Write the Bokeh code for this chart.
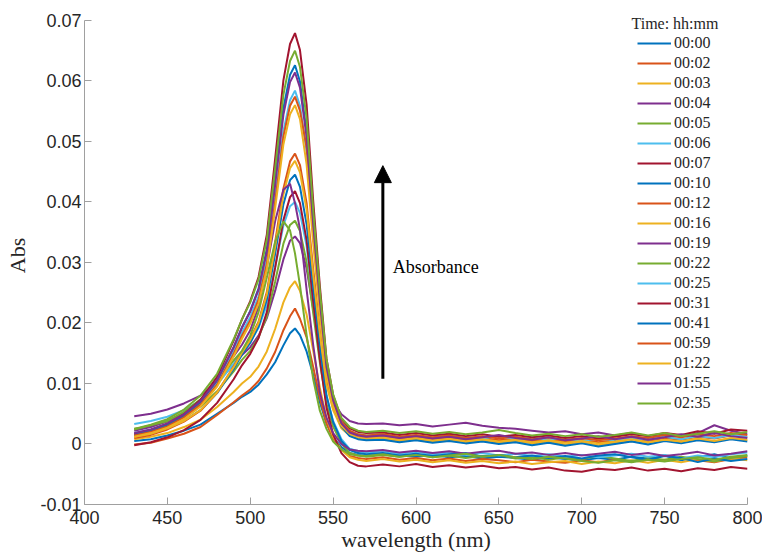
from bokeh.plotting import figure
from bokeh.models import (Range1d, FixedTicker, Legend, LegendItem, Arrow,
                          NormalHead, Label, ColumnDataSource)
from bokeh.embed import file_html
from bokeh.resources import INLINE

# ---------------- data ----------------
wavelength = [430, 440, 450, 460, 470, 480, 490, 495, 500, 505, 510, 515, 520,
              524, 527, 530, 534, 538, 542, 546, 550, 555, 560, 565, 570,
              580, 590, 600, 610, 620, 630, 640, 650, 660, 670, 680, 690, 700,
              710, 720, 730, 740, 750, 760, 770, 780, 790, 800]

times = ["00:00", "00:02", "00:03", "00:04", "00:05", "00:06", "00:07",
         "00:10", "00:12", "00:16", "00:19", "00:22", "00:25", "00:31",
         "00:41", "00:59", "01:22", "01:55", "02:35"]

abs_0000 = [.0005, .0008, .0014, .0022, .0032, .0050, .0068, .0078, .0086, .0098, .0115, .0135, .0163,
            .0183, .0191, .0180, .0153, .0114, .0069, .0034, .0011, -.0005, -.0015, -.0018, -.0020,
            -.0017, -.0019, -.0021, -.0018, -.0022, -.0020, -.0024, -.0021, -.0023, -.0026, -.0022, -.0025,
            -.0027, -.0023, -.0026, -.0021, -.0024, -.0019, -.0027, -.0022, -.0017, -.0024, -.0019]
abs_0002 = [-.0001, .0002, .0009, .0017, .0028, .0048, .0069, .0080, .0090, .0104, .0125, .0152, .0188,
            .0211, .0224, .0207, .0176, .0127, .0076, .0034, .0009, -.0009, -.0020, -.0023, -.0025,
            -.0022, -.0026, -.0023, -.0027, -.0024, -.0028, -.0025, -.0027, -.0030, -.0026, -.0029, -.0031,
            -.0027, -.0030, -.0026, -.0029, -.0025, -.0028, -.0023, -.0027, -.0030, -.0025, -.0022]
abs_0003 = [.0008, .0012, .0018, .0028, .0040, .0061, .0086, .0100, .0111, .0128, .0153, .0190, .0234,
            .0259, .0269, .0253, .0214, .0154, .0093, .0043, .0012, -.0010, -.0022, -.0026, -.0028,
            -.0025, -.0029, -.0026, -.0030, -.0027, -.0031, -.0028, -.0032, -.0029, -.0033, -.0030, -.0028,
            -.0033, -.0029, -.0032, -.0027, -.0031, -.0026, -.0030, -.0025, -.0029, -.0024, -.0027]
abs_0004 = [.0046, .0050, .0057, .0067, .0080, .0103, .0131, .0147, .0160, .0179, .0208, .0253, .0305,
            .0336, .0343, .0332, .0290, .0223, .0156, .0101, .0070, .0049, .0038, .0034, .0033,
            .0034, .0031, .0033, .0029, .0032, .0035, .0030, .0027, .0025, .0022, .0019, .0021,
            .0016, .0019, .0014, .0018, .0013, .0017, .0012, .0018, .0031, .0022, .0016]
abs_0005 = [.0025, .0029, .0037, .0048, .0062, .0087, .0120, .0139, .0154, .0176, .0211, .0268, .0331,
            .0362, .0369, .0352, .0301, .0216, .0135, .0067, .0029, .0001, -.0015, -.0019, -.0021,
            -.0018, -.0021, -.0017, -.0022, -.0019, -.0023, -.0020, -.0018, -.0024, -.0021, -.0026, -.0022,
            -.0025, -.0020, -.0024, -.0028, -.0023, -.0026, -.0021, -.0025, -.0029, -.0023, -.0020]
abs_0006 = [.0033, .0038, .0045, .0056, .0072, .0098, .0133, .0152, .0169, .0192, .0230, .0292, .0361,
            .0393, .0400, .0382, .0327, .0236, .0151, .0079, .0038, .0008, -.0008, -.0012, -.0014,
            -.0012, -.0016, -.0013, -.0017, -.0014, -.0018, -.0015, -.0019, -.0016, -.0020, -.0017, -.0021,
            -.0018, -.0022, -.0019, -.0016, -.0021, -.0018, -.0024, -.0019, -.0022, -.0017, -.0014]
abs_0007 = [-.0002, .0003, .0011, .0023, .0040, .0068, .0107, .0130, .0149, .0175, .0218, .0291, .0370,
            .0408, .0418, .0398, .0337, .0235, .0140, .0060, .0016, -.0015, -.0030, -.0036, -.0037,
            -.0034, -.0037, -.0033, -.0038, -.0035, -.0039, -.0036, -.0040, -.0038, -.0042, -.0039, -.0044,
            -.0046, -.0041, -.0043, -.0039, -.0044, -.0041, -.0045, -.0040, -.0043, -.0038, -.0041]
abs_0010 = [.0013, .0018, .0026, .0038, .0056, .0084, .0124, .0148, .0167, .0194, .0239, .0314, .0396,
            .0436, .0445, .0425, .0363, .0259, .0162, .0080, .0036, .0005, -.0010, -.0015, -.0017,
            -.0015, -.0019, -.0016, -.0020, -.0017, -.0015, -.0021, -.0018, -.0022, -.0019, -.0023, -.0020,
            -.0024, -.0019, -.0017, -.0022, -.0026, -.0020, -.0023, -.0030, -.0024, -.0028, -.0025]
abs_0012 = [.0010, .0015, .0024, .0037, .0055, .0085, .0128, .0153, .0174, .0202, .0251, .0333, .0422,
            .0467, .0480, .0461, .0398, .0288, .0187, .0103, .0059, .0030, .0018, .0013, .0012,
            .0013, .0009, .0012, .0008, .0011, .0007, .0010, .0006, .0009, .0005, .0008, .0004,
            .0007, .0003, .0006, .0009, .0005, .0010, .0007, .0012, .0009, .0014, .0011]
abs_0016 = [.0012, .0017, .0026, .0038, .0056, .0085, .0127, .0151, .0172, .0200, .0247, .0326, .0412,
            .0456, .0468, .0449, .0387, .0279, .0182, .0098, .0056, .0026, .0014, .0009, .0008,
            .0009, .0005, .0008, .0004, .0007, .0003, .0006, .0002, .0005, .0001, .0004, -.0001,
            .0003, -.0002, .0002, .0005, .0001, .0006, .0003, .0008, .0004, .0009, .0006]
abs_0019 = [.0022, .0028, .0038, .0051, .0072, .0104, .0145, .0164, .0188, .0227, .0292, .0368, .0420,
            .0430, .0398, .0355, .0255, .0163, .0085, .0043, .0018, .0000, -.0009, -.0011, -.0012,
            -.0010, -.0014, -.0011, -.0015, -.0012, -.0016, -.0013, -.0011, -.0016, -.0014, -.0018, -.0015,
            -.0019, -.0016, -.0013, -.0018, -.0015, -.0020, -.0017, -.0013, -.0019, -.0016, -.0012]
abs_0022 = [.0024, .0031, .0038, .0053, .0074, .0103, .0138, .0154, .0179, .0218, .0275, .0334, .0368,
            .0353, .0315, .0262, .0180, .0107, .0055, .0025, .0004, -.0009, -.0017, -.0019, -.0020,
            -.0017, -.0021, -.0018, -.0022, -.0019, -.0016, -.0021, -.0018, -.0022, -.0025, -.0021, -.0024,
            -.0028, -.0031, -.0027, -.0030, -.0026, -.0029, -.0025, -.0022, -.0026, -.0021, -.0018]
abs_0025 = [.0018, .0024, .0033, .0048, .0069, .0103, .0154, .0184, .0210, .0244, .0304, .0407, .0517,
            .0568, .0584, .0559, .0483, .0346, .0226, .0123, .0071, .0035, .0021, .0016, .0014,
            .0015, .0011, .0014, .0010, .0016, .0012, .0009, .0013, .0008, .0011, .0007, .0010,
            .0005, .0009, .0006, .0010, .0007, .0012, .0008, .0013, .0010, .0015, .0012]
abs_0031 = [.0016, .0023, .0033, .0049, .0073, .0111, .0171, .0206, .0236, .0276, .0346, .0471, .0601,
            .0661, .0679, .0651, .0561, .0401, .0261, .0141, .0081, .0041, .0026, .0020, .0018,
            .0019, .0015, .0018, .0014, .0017, .0013, .0016, .0012, .0015, .0011, .0014, .0010,
            .0013, .0009, .0012, .0016, .0013, .0018, .0015, .0021, .0017, .0024, .0022]
abs_0041 = [.0015, .0022, .0031, .0046, .0069, .0105, .0160, .0193, .0220, .0257, .0322, .0436, .0555,
            .0610, .0626, .0599, .0515, .0367, .0236, .0125, .0068, .0029, .0013, .0008, .0006,
            .0007, .0003, .0006, .0002, .0005, .0001, .0004, .0000, .0003, -.0002, .0002, -.0003,
            .0001, -.0004, .0000, .0004, -.0001, .0005, .0001, .0006, .0003, .0008, .0004]
abs_0059 = [.0014, .0020, .0029, .0044, .0065, .0098, .0149, .0179, .0204, .0238, .0297, .0399, .0508,
            .0559, .0574, .0551, .0490, .0365, .0240, .0135, .0072, .0036, .0022, .0016, .0014,
            .0016, .0012, .0015, .0011, .0014, .0010, .0013, .0009, .0012, .0008, .0011, .0007,
            .0010, .0006, .0009, .0013, .0010, .0015, .0011, .0016, .0013, .0018, .0015]
abs_0122 = [.0012, .0018, .0027, .0041, .0062, .0095, .0145, .0174, .0199, .0232, .0289, .0389, .0495,
            .0545, .0560, .0537, .0462, .0331, .0215, .0115, .0064, .0030, .0017, .0012, .0010,
            .0011, .0007, .0010, .0006, .0009, .0005, .0008, .0004, .0007, .0003, .0006, .0002,
            .0005, .0001, .0004, .0008, .0003, .0007, .0004, .0009, .0005, .0010, .0007]
abs_0155 = [.0018, .0024, .0034, .0049, .0071, .0106, .0160, .0192, .0219, .0255, .0318, .0428, .0544,
            .0598, .0614, .0589, .0507, .0363, .0236, .0127, .0072, .0034, .0019, .0014, .0012,
            .0014, .0010, .0013, .0009, .0012, .0008, .0011, .0015, .0010, .0007, .0011, .0006,
            .0009, .0013, .0008, .0012, .0007, .0011, .0016, .0012, .0018, .0013, .0010]
abs_0235 = [.0025, .0032, .0041, .0057, .0080, .0116, .0173, .0206, .0234, .0272, .0338, .0455, .0577,
            .0633, .0650, .0623, .0538, .0386, .0253, .0140, .0082, .0043, .0028, .0022, .0020,
            .0022, .0018, .0021, .0017, .0020, .0016, .0019, .0023, .0018, .0014, .0017, .0013,
            .0016, .0012, .0015, .0019, .0014, .0018, .0013, .0017, .0021, .0016, .0020]

series = [abs_0000, abs_0002, abs_0003, abs_0004, abs_0005, abs_0006, abs_0007,
          abs_0010, abs_0012, abs_0016, abs_0019, abs_0022, abs_0025, abs_0031,
          abs_0041, abs_0059, abs_0122, abs_0155, abs_0235]

x_ticks = [400, 450, 500, 550, 600, 650, 700, 750, 800]
y_ticks = [-0.01, 0, 0.01, 0.02, 0.03, 0.04, 0.05, 0.06, 0.07]
y_tick_labels = ["-0.01", "0", "0.01", "0.02", "0.03", "0.04", "0.05", "0.06", "0.07"]
y_axis_min = -0.01
y_axis_max = 0.07
y_view_max = 0.0723   # a little headroom above the axis so the legend title is not clipped

legend_title = "Time: hh:mm"
legend_title_x = 730.0
legend_title_y = 0.0695

arrow_x = 580
arrow_y_start = 0.0108
arrow_y_end = 0.0460
note_x = 586
note_y = 0.0292
note_text = "Absorbance"

palette = ["#0072BD", "#D95319", "#EDB120", "#7E2F8E", "#77AC30", "#4DBEEE", "#A2142F"]

# ---------------- figure ----------------
p = figure(width=762, height=556, x_range=Range1d(400, 800),
           y_range=Range1d(y_axis_min, y_view_max),
           output_backend="svg", toolbar_location=None,
           min_border_left=84, min_border_right=15, min_border_top=6, min_border_bottom=52)
p.outline_line_color = None
p.grid.visible = False
p.background_fill_color = "white"
p.border_fill_color = "white"

p.xaxis.ticker = FixedTicker(ticks=x_ticks)
p.yaxis.ticker = FixedTicker(ticks=y_ticks)
p.yaxis.major_label_overrides = dict(zip(y_ticks, y_tick_labels))
p.yaxis.bounds = (y_axis_min, y_axis_max)
for ax in (p.xaxis[0], p.yaxis[0]):
    ax.axis_line_color = "#a0a0a0"
    ax.major_tick_line_color = "#a0a0a0"
    ax.major_tick_in = 7
    ax.major_tick_out = 0
    ax.minor_tick_line_color = None
    ax.major_label_text_font = "Liberation Sans"
    ax.major_label_text_font_size = "18px"
    ax.major_label_text_color = "#262626"
    ax.axis_label_text_font = "Liberation Serif"
    ax.axis_label_text_font_size = "22px"
    ax.axis_label_text_font_style = "normal"
    ax.axis_label_text_color = "#262626"
p.xaxis.axis_label = "wavelength (nm)"
p.yaxis.axis_label = "Abs"
p.xaxis.major_label_standoff = 6
p.yaxis.major_label_standoff = 3
p.xaxis.axis_label_standoff = 0
p.yaxis.axis_label_standoff = 7

items = []
for i, (t, vals) in enumerate(zip(times, series)):
    src = ColumnDataSource(data=dict(x=wavelength, y=vals))
    r = p.line("x", "y", source=src, line_color=palette[i % len(palette)], line_width=2)
    items.append(LegendItem(label=t, renderers=[r]))

legend = Legend(items=items, location=(553, 91),
                label_text_font="Liberation Serif", label_text_font_size="16px",
                label_text_color="#262626",
                glyph_width=34, glyph_height=20, label_height=20, label_standoff=3,
                spacing=0, padding=0, margin=0,
                border_line_color=None, background_fill_alpha=0)
p.add_layout(legend)
p.add_layout(Label(x=legend_title_x, y=legend_title_y, text=legend_title,
                   text_font="Liberation Serif", text_font_size="16px",
                   text_baseline="middle", text_align="left", text_color="#262626"))

p.add_layout(Arrow(end=NormalHead(size=17, fill_color="black", line_color="black"),
                   x_start=arrow_x, y_start=arrow_y_start, x_end=arrow_x, y_end=arrow_y_end,
                   line_width=3, line_color="black"))
p.add_layout(Label(x=note_x, y=note_y, text=note_text, text_font="Liberation Serif",
                   text_font_size="18px", text_baseline="middle", text_align="left",
                   text_color="black"))

open("out.html", "w").write(file_html(p, INLINE))
